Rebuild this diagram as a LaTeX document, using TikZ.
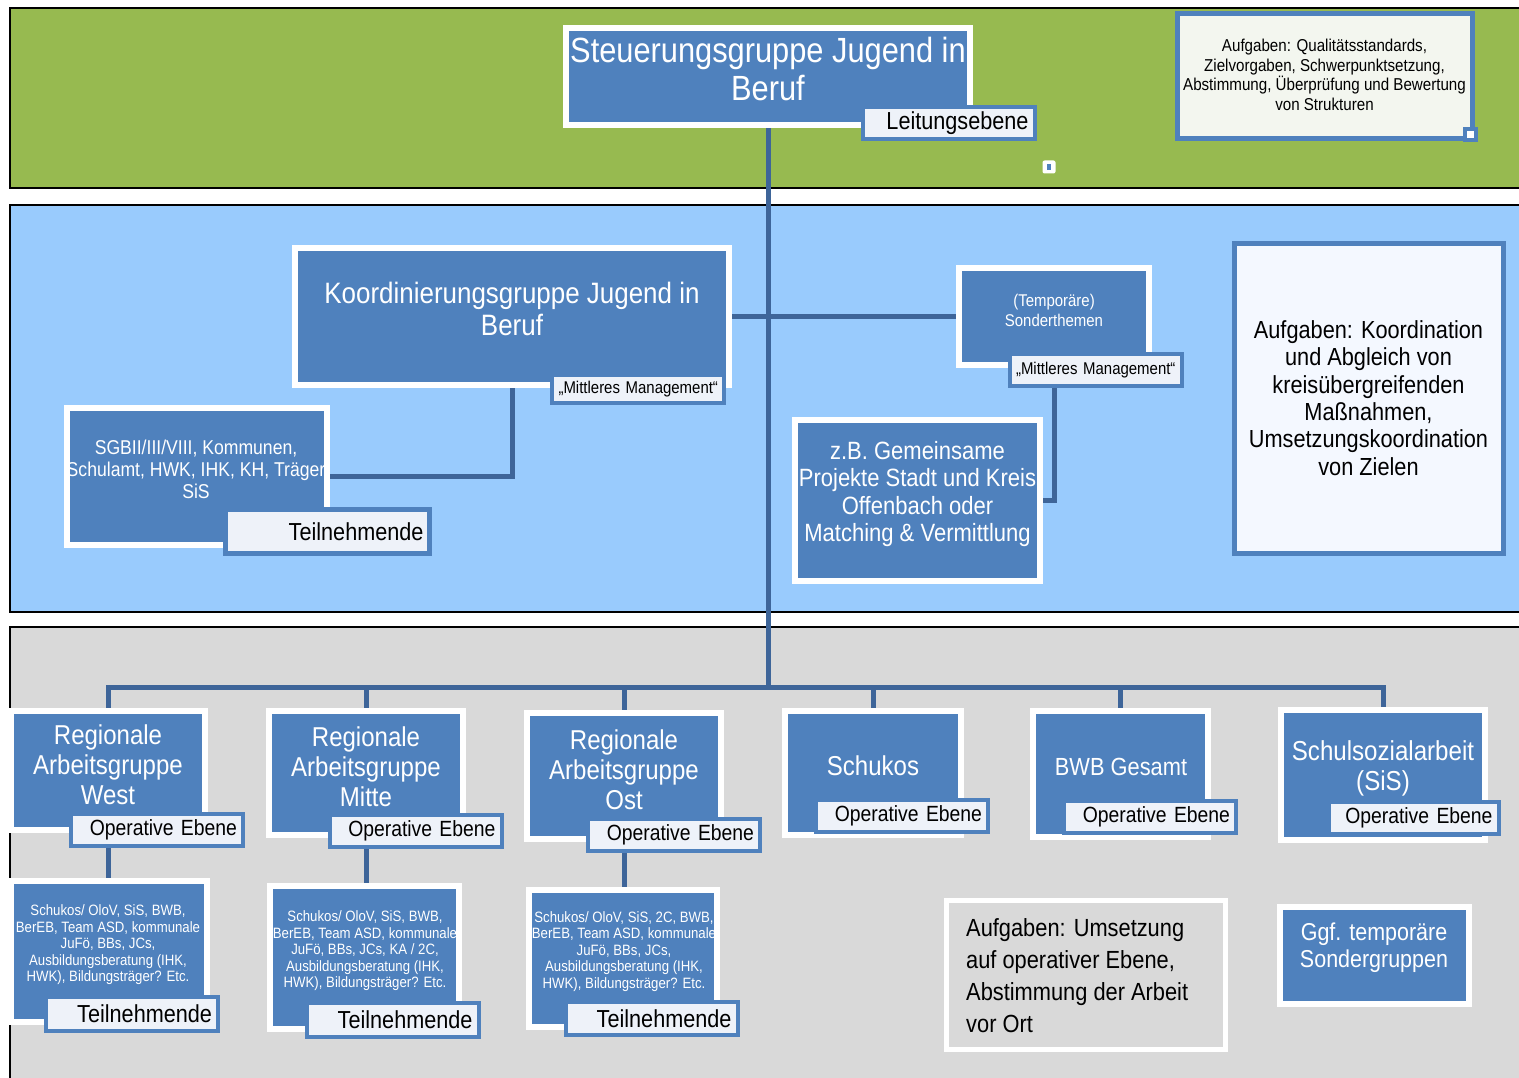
\documentclass[tikz,border=0pt]{standalone}
\usepackage{fontspec}
\setmainfont{Liberation Sans}[FakeStretch=0.88]
\usepackage{tikz}

\definecolor{bandgreen}{RGB}{151,186,80}
\definecolor{bandblue}{RGB}{153,203,253}
\definecolor{bandgrey}{RGB}{217,217,217}
\definecolor{boxblue}{RGB}{79,129,189}
\definecolor{linkblue}{RGB}{62,101,153}
\definecolor{labfill}{RGB}{238,242,249}
\definecolor{notefill}{RGB}{243,246,239}
\definecolor{notefillb}{RGB}{244,248,255}

\pgfdeclarelayer{back}
\pgfdeclarelayer{lines}
\pgfsetlayers{back,lines,main}

\begin{document}
\begin{tikzpicture}[x=1pt,y=-1pt,
    orgbox/.style={fill=boxblue, draw=white, line width=6pt, inner sep=0pt},
    orgtext/.style={text=white, align=center, inner sep=0pt},
    labbox/.style={fill=labfill, draw=boxblue, line width=4pt, inner xsep=6pt, inner ysep=0pt,
        minimum width=172pt, minimum height=32pt, text width=160pt, align=right},
    notebox/.style={fill=notefill, draw=boxblue, line width=5pt, inner sep=0pt},
    link/.style={draw=linkblue, line width=5pt}]

    \useasboundingbox (0,0) rectangle (1519,1078);

    % Draw the three levels
    \begin{pgfonlayer}{back}
        \fill[white] (0,0) rectangle (1519,1078);
        \draw[fill=bandgreen, line width=2pt] (10,8) rectangle (1540,188);
        \draw[fill=bandblue, line width=2pt] (10,205) rectangle (1540,612);
        \draw[fill=bandgrey, line width=2pt] (10,627) rectangle (1540,1100);
    \end{pgfonlayer}

    % Leitungsebene
    \node[orgbox, minimum width=404pt, minimum height=97pt] (steuer) at (768,76.5) {};
    \node[orgtext, font=\fontsize{35}{38}\selectfont] (steuer-t) at (768,69) {Steuerungsgruppe Jugend in\\Beruf};
    \node[labbox, font=\fontsize{24.6}{26}\selectfont] (leit) at (948.5,123) {Leitungsebene};

    \node[notebox, minimum width=295pt, minimum height=125pt] (aufg1) at (1324.5,76.5) {};
    \node[align=center, inner sep=0pt, font=\fontsize{17.2}{19.5}\selectfont] (aufg1-t) at (1324.5,75)
        {Aufgaben: Qualitätsstandards,\\Zielvorgaben, Schwerpunktsetzung,\\Abstimmung, Überprüfung und Bewertung\\von Strukturen};
    \node[fill=white, draw=boxblue, line width=4pt, minimum size=11pt, inner sep=0pt] (h1) at (1470,135) {};
    \node[fill=white, rounded corners=2pt, minimum size=13pt, inner sep=0pt] (h2) at (1049,167) {};
    \fill[boxblue] ([shift={(-2,-3)}]h2.center) rectangle ([shift={(2,3)}]h2.center);

    % Mittleres Management
    \node[orgbox, minimum width=434pt, minimum height=137pt] (koord) at (512,316.5) {};
    \node[orgtext, font=\fontsize{29.5}{32}\selectfont] (koord-t) at (512,309) {Koordinierungsgruppe Jugend in\\Beruf};
    \node[labbox, font=\fontsize{17}{19}\selectfont, minimum height=28pt] (mm1) at (638,389) {„Mittleres Management“};

    \node[orgbox, minimum width=190pt, minimum height=97pt] (temp) at (1054,316.5) {};
    \node[orgtext, font=\fontsize{17}{20}\selectfont] (temp-t) at (1054,310) {(Temporäre)\\Sonderthemen};
    \node[labbox, font=\fontsize{17}{19}\selectfont] (mm2) at (1095.5,370) {„Mittleres Management“};

    \node[orgbox, minimum width=245pt, minimum height=161pt] (zb) at (917.5,500.5) {};
    \node[orgtext, font=\fontsize{25}{27.5}\selectfont] (zb-t) at (917.5,494)
        {z.B. Gemeinsame\\Projekte Stadt und Kreis\\Offenbach oder\\Matching \& Vermittlung};

    \node[orgbox, minimum width=260pt, minimum height=137pt] (sgb) at (197,476.5) {};
    \node[orgtext, font=\fontsize{20}{22}\selectfont] (sgb-t) at (196,469)
        {SGBII/III/VIII, Kommunen,\\Schulamt, HWK, IHK, KH, Träger\\SiS};
    \node[labbox, font=\fontsize{24.6}{26}\selectfont, line width=5pt, minimum width=204pt, text width=192pt, minimum height=44pt]
        (tn0) at (327.5,531.5) {Teilnehmende};

    \node[notebox, fill=notefillb, minimum width=269pt, minimum height=309pt] (aufg2) at (1368.5,398.5) {};
    \node[align=center, inner sep=0pt, font=\fontsize{24.7}{27.4}\selectfont] (aufg2-t) at (1368.5,398)
        {Aufgaben: Koordination\\und Abgleich von\\kreisübergreifenden\\Maßnahmen,\\Umsetzungskoordination\\von Zielen};

    % Operative Ebene
    \coordinate (bus) at (768,687);
    \node[orgbox, minimum width=194pt, minimum height=119pt] (west) at (108,770.5) {};
    \node[orgtext, font=\fontsize{27.3}{30}\selectfont] (west-t) at (108,765) {Regionale\\Arbeitsgruppe\\West};
    \node[labbox, font=\fontsize{22}{24}\selectfont] (opw) at (157,830) {Operative Ebene};

    \node[orgbox, minimum width=194pt, minimum height=124pt] (mitte) at (366,773) {};
    \node[orgtext, font=\fontsize{27.3}{30}\selectfont] (mitte-t) at (366,767) {Regionale\\Arbeitsgruppe\\Mitte};
    \node[labbox, font=\fontsize{22}{24}\selectfont] (opm) at (415.5,831) {Operative Ebene};

    \node[orgbox, minimum width=194pt, minimum height=126pt] (ost) at (624,776) {};
    \node[orgtext, font=\fontsize{27.3}{30}\selectfont] (ost-t) at (624,770) {Regionale\\Arbeitsgruppe\\Ost};
    \node[labbox, font=\fontsize{22}{24}\selectfont] (opo) at (674,835) {Operative Ebene};

    \node[orgbox, minimum width=176pt, minimum height=124pt] (schukos) at (873,773) {};
    \node[orgtext, font=\fontsize{27.3}{30}\selectfont] (schukos-t) at (873,766) {Schukos};
    \node[labbox, font=\fontsize{22}{24}\selectfont] (ops) at (902,816) {Operative Ebene};

    \node[orgbox, minimum width=175pt, minimum height=126pt] (bwb) at (1120.5,774) {};
    \node[orgtext, font=\fontsize{24.8}{28}\selectfont] (bwb-t) at (1121,767) {BWB Gesamt};
    \node[labbox, font=\fontsize{22}{24}\selectfont] (opb) at (1150,817) {Operative Ebene};

    \node[orgbox, minimum width=204pt, minimum height=130pt] (sis) at (1383,775) {};
    \node[orgtext, font=\fontsize{27.4}{30}\selectfont] (sis-t) at (1383,768) {Schulsozialarbeit\\(SiS)};
    \node[labbox, font=\fontsize{22}{24}\selectfont, minimum width=170pt, text width=158pt] (opsis) at (1413.5,818) {Operative Ebene};

    % Teilnehmende der Regionen
    \node[orgbox, minimum width=196pt, minimum height=141pt] (tw) at (109,951.5) {};
    \node[orgtext, font=\fontsize{15}{16.5}\selectfont] (tw-t) at (108,945)
        {Schukos/ OloV, SiS, BWB,\\BerEB, Team ASD, kommunale\\JuFö, BBs, JCs,\\Ausbildungsberatung (IHK,\\HWK), Bildungsträger? Etc.};
    \node[labbox, font=\fontsize{24.6}{26}\selectfont, minimum height=34pt] (tnw) at (132,1014) {Teilnehmende};

    \node[orgbox, minimum width=189pt, minimum height=143pt] (tm) at (364.5,957.5) {};
    \node[orgtext, font=\fontsize{15}{16.5}\selectfont] (tm-t) at (365,951)
        {Schukos/ OloV, SiS, BWB,\\BerEB, Team ASD, kommunale\\JuFö, BBs, JCs, KA / 2C,\\Ausbildungsberatung (IHK,\\HWK), Bildungsträger? Etc.};
    \node[labbox, font=\fontsize{24.6}{26}\selectfont, minimum height=34pt] (tnm) at (392.5,1020) {Teilnehmende};

    \node[orgbox, minimum width=188pt, minimum height=137pt] (to) at (623,958.5) {};
    \node[orgtext, font=\fontsize{15}{16.5}\selectfont] (to-t) at (624,951.5)
        {Schukos/ OloV, SiS, 2C, BWB,\\BerEB, Team ASD, kommunale\\JuFö, BBs, JCs,\\Ausbildungsberatung (IHK,\\HWK), Bildungsträger? Etc.};
    \node[labbox, font=\fontsize{24.6}{26}\selectfont, minimum height=33pt] (tno) at (651.5,1018.5) {Teilnehmende};

    \node[fill=bandgrey, draw=white, line width=5pt, minimum width=279pt, minimum height=149pt, inner sep=0pt] (aufg3) at (1086,975) {};
    \node[align=left, anchor=west, inner sep=0pt, font=\fontsize{24.8}{32}\selectfont] (aufg3-t) at (966,976)
        {Aufgaben: Umsetzung\\auf operativer Ebene,\\Abstimmung der Arbeit\\vor Ort};

    \node[orgbox, minimum width=189pt, minimum height=97pt] (ggf) at (1374.5,955.5) {};
    \node[orgtext, font=\fontsize{24.4}{27}\selectfont] (ggf-t) at (1374,948) {Ggf. temporäre\\Sondergruppen};

    % Connectors behind the boxes
    \begin{pgfonlayer}{lines}
        \draw[link] (steuer.south) -- (bus);
        \draw[link] (koord.east) -- (temp.west);
        \draw[link] (koord.south) |- (sgb.east);
        \draw[link] (temp.south) |- (zb.east);
        \foreach \n in {west,mitte,ost,schukos,bwb,sis} {
            \draw[link] (bus) -| (\n.north);
        }
        \foreach \n/\m in {west/tw,mitte/tm,ost/to} {
            \draw[link] (\n.south) -- (\m.north -| \n.south);
        }
    \end{pgfonlayer}
\end{tikzpicture}
\end{document}
